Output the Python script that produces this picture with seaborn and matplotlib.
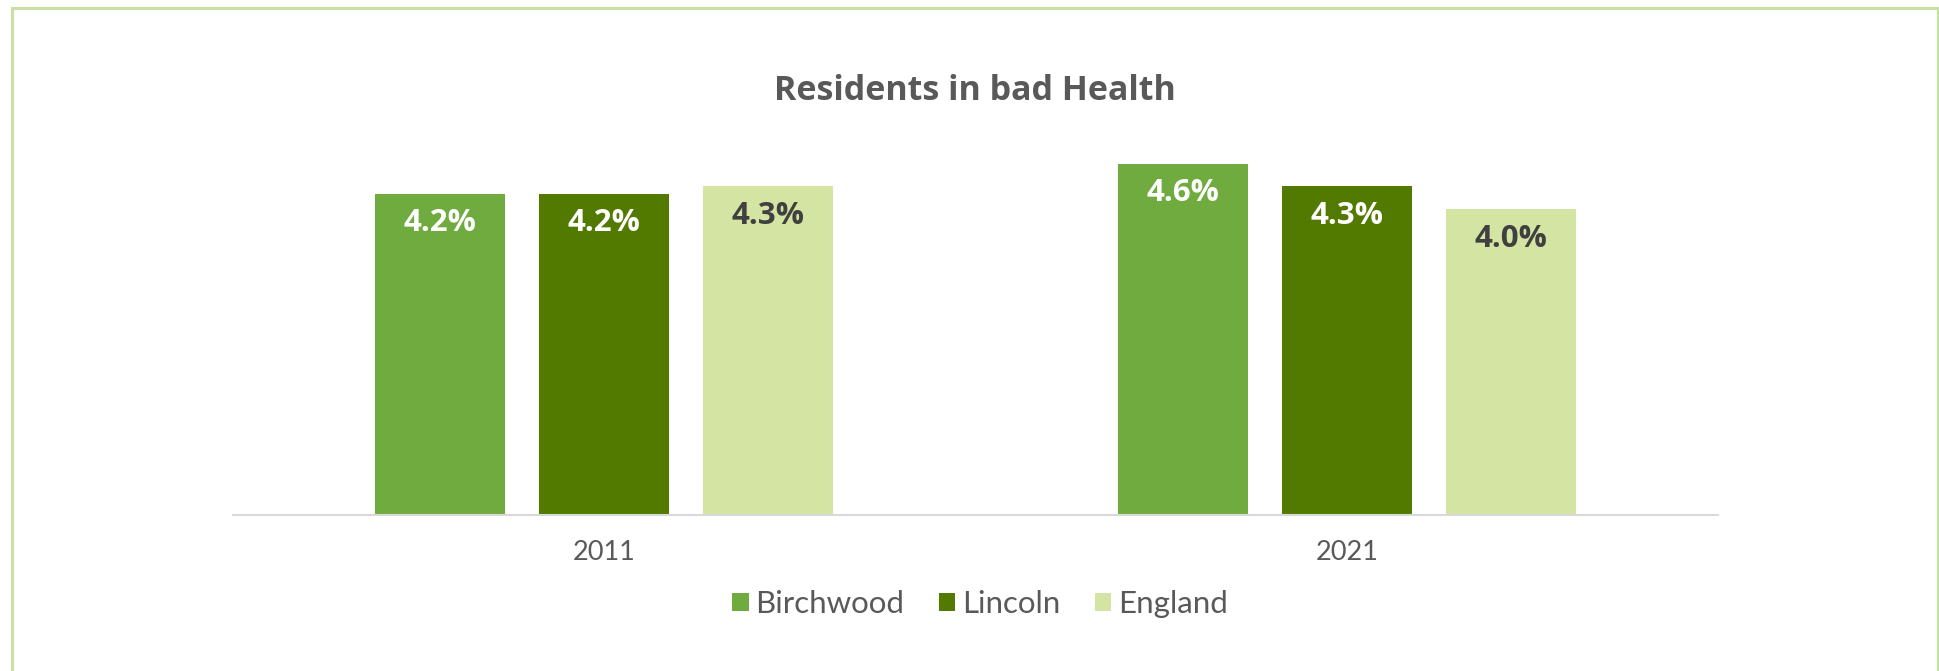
import matplotlib
matplotlib.use("Agg")
import matplotlib.pyplot as plt
from matplotlib.patches import Rectangle, Patch
import seaborn as sns
import pandas as pd

# Data
years = ["2011", "2021"]
areas = ["Birchwood", "Lincoln", "England"]
birchwood = [4.2, 4.6]
lincoln = [4.2, 4.3]
england = [4.3, 4.0]

colors = ["#70AB40", "#527A00", "#D4E4A2"]
label_colors = ["white", "white", "#404040"]

df = pd.DataFrame({
    "Year": years * 3,
    "Area": [a for a in areas for _ in years],
    "Value": birchwood + lincoln + england,
})

W, H, DPI = 1939, 671, 100
sns.set_style("white")
plt.rcParams["font.family"] = ["Lato", "DejaVu Sans"]

fig = plt.figure(figsize=(W / DPI, H / DPI), dpi=DPI)
ax = fig.add_axes([233 / W, 1 - 515 / H, 1485 / W, (515 - 133) / H])

sns.barplot(data=df, x="Year", y="Value", hue="Area", order=years,
            hue_order=areas, palette=colors, saturation=1, width=0.663,
            gap=0.207, legend=False, linewidth=0, ax=ax)

ax.set_ylim(0, 5)
ax.set_xlim(-0.5, 1.5)
ax.set_yticks([])
ax.set_xlabel("")
ax.set_ylabel("")
for s in ("left", "top", "right"):
    ax.spines[s].set_visible(False)
ax.spines["bottom"].set_color("#D9D9D9")
ax.spines["bottom"].set_linewidth(1.5)
ax.tick_params(axis="x", length=0, pad=18, labelsize=19.5, labelcolor="#595959")

# Value labels inside the top of each bar
for cont, lc in zip(ax.containers, label_colors):
    for bar in cont:
        v = bar.get_height()
        ax.annotate(f"{v:.1f}%", xy=(bar.get_x() + bar.get_width() / 2, v),
                    xytext=(0, -21), textcoords="offset points",
                    ha="center", va="center", fontsize=22.5,
                    fontweight="bold", color=lc, family="Open Sans")

fig.text(975 / W, 1 - 91 / H, "Residents in bad Health", ha="center",
         va="center", fontsize=24.5, fontweight="bold", color="#595959",
         family="Open Sans")

handles = [Patch(facecolor=c, edgecolor="none") for c in colors]
fig.legend(handles, areas, loc="center", bbox_to_anchor=(980 / W, 1 - 604 / H),
           ncol=3, frameon=False, fontsize=22.5, labelcolor="#595959",
           handlelength=0.52, handleheight=0.52, handletextpad=0.22,
           columnspacing=1.1, borderpad=0, borderaxespad=0)

# Outer frame
fig.add_artist(Rectangle((12 / W, -0.1), (1938 - 12) / W, 1.1 - 8 / H,
                         transform=fig.transFigure, fill=False,
                         edgecolor="#C8E0A0", linewidth=2.2, clip_on=False))

fig.savefig("out.png", dpi=DPI, facecolor="white")
